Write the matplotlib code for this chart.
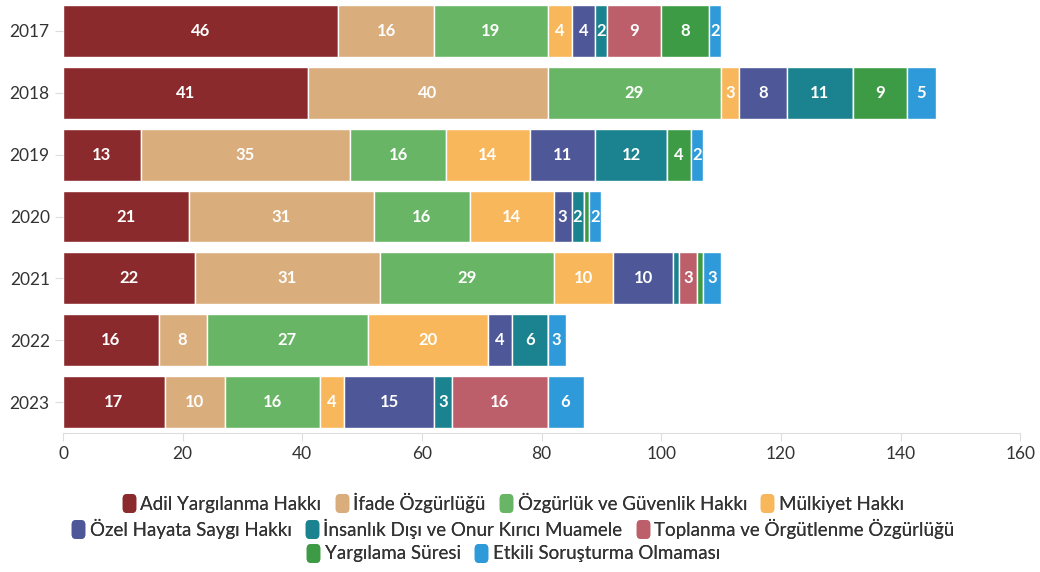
import numpy as np
import matplotlib
matplotlib.use("Agg")
import matplotlib.pyplot as plt
from matplotlib.lines import Line2D
from matplotlib.patches import FancyBboxPatch

plt.rcParams["font.family"] = ["Lato", "DejaVu Sans"]

years = ["2017", "2018", "2019", "2020", "2021", "2022", "2023"]
categories = [
    "Adil Yargılanma Hakkı",
    "İfade Özgürlüğü",
    "Özgürlük ve Güvenlik Hakkı",
    "Mülkiyet Hakkı",
    "Özel Hayata Saygı Hakkı",
    "İnsanlık Dışı ve Onur Kırıcı Muamele",
    "Toplanma ve Örgütlenme Özgürlüğü",
    "Yargılama Süresi",
    "Etkili Soruşturma Olmaması",
]
adil = [46, 41, 13, 21, 22, 16, 17]
ifade = [16, 40, 35, 31, 31, 8, 10]
ozgurluk = [19, 29, 16, 16, 29, 27, 16]
mulkiyet = [4, 3, 14, 14, 10, 20, 4]
ozel = [4, 8, 11, 3, 10, 4, 15]
insanlik = [2, 11, 12, 2, 1, 6, 3]
toplanma = [9, 0, 0, 0, 3, 0, 16]
yargilama = [8, 9, 4, 1, 1, 0, 0]
etkili = [2, 5, 2, 2, 3, 3, 6]
series = [adil, ifade, ozgurluk, mulkiyet, ozel, insanlik, toplanma, yargilama, etkili]
colors = ["#8b2a2c", "#d9ad7c", "#68b565", "#f8b75a", "#4e5898",
          "#1b8390", "#bd5f6b", "#3d9b45", "#2e9ad9"]

fig = plt.figure(figsize=(10.4, 5.72), dpi=100)
ax = fig.add_axes([0.0606, 0.243, 0.9204, 0.757])

y = np.arange(len(years))
left = np.zeros(len(years))
for vals, col in zip(series, colors):
    vals = np.array(vals, dtype=float)
    ax.barh(y, vals, left=left, height=0.84, color=col, edgecolor="white", linewidth=1.0)
    for yi, (l, v) in enumerate(zip(left, vals)):
        if v >= 2:
            ax.text(l + v / 2, yi, f"{int(v)}", ha="center", va="center",
                    color="white", fontsize=12, fontweight="bold")
    left += vals

ax.set_xlim(0, 160)
ax.set_ylim(6.5, -0.5)
ax.set_yticks(y)
ax.set_yticklabels(years)
ax.set_xticks(np.arange(0, 161, 20))
for s in ["top", "right"]:
    ax.spines[s].set_visible(False)
ax.spines["left"].set_visible(False)
ax.spines["bottom"].set_color("#dddddd")
ax.tick_params(axis="x", colors="#dddddd", length=6, labelcolor="#333333", labelsize=12.5)
ax.tick_params(axis="y", colors="#dddddd", length=6, labelcolor="#333333", labelsize=12.5)

# rounded rectangle legend marker
rr = FancyBboxPatch((-0.35, -0.5), 0.7, 1.0, boxstyle="round,pad=0,rounding_size=0.2").get_path()

rows = [[0, 1, 2, 3], [4, 5, 6], [7, 8]]
row_y = [0.121, 0.076, 0.032]
for r, yy in zip(rows, row_y):
    handles = [Line2D([], [], linestyle="none", marker=rr, markersize=12.5,
                      markerfacecolor=colors[i], markeredgecolor=colors[i]) for i in r]
    leg = fig.legend(handles, [categories[i] for i in r], loc="center",
                     bbox_to_anchor=(0.494, yy), ncol=len(r), frameon=False,
                     fontsize=13.5, handlelength=0.55, handletextpad=0.35,
                     columnspacing=0.8, borderpad=0, labelcolor="#333333")
    fig.add_artist(leg)

fig.savefig("out.png", dpi=100)
